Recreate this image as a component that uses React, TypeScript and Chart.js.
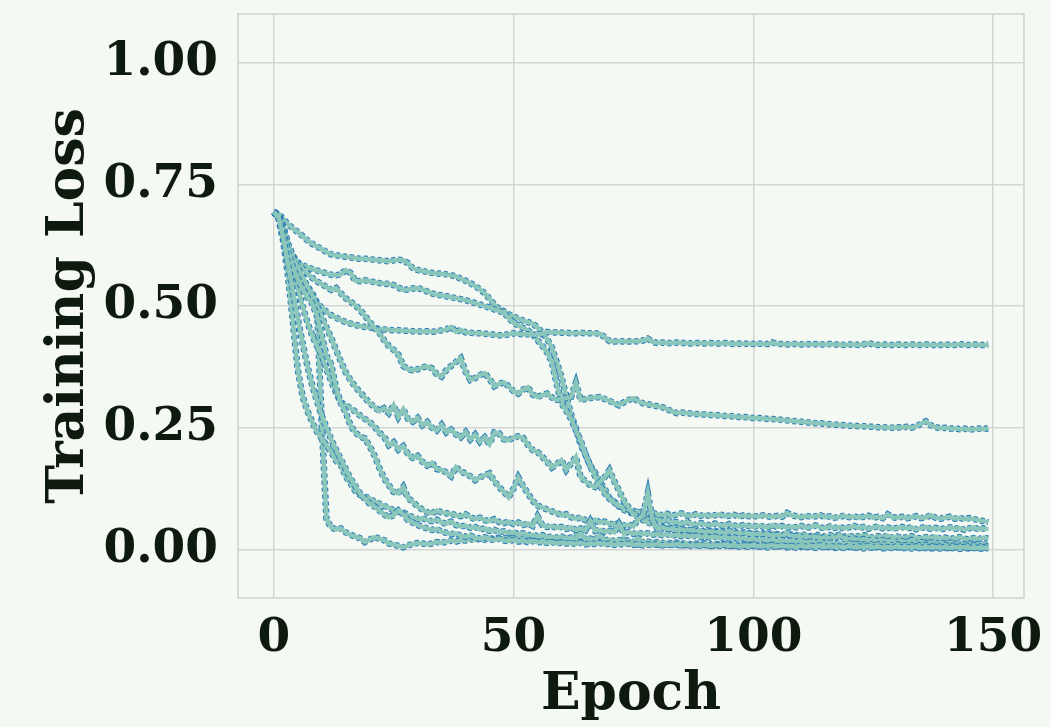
import React, { useEffect, useRef } from "react";
import { Chart, registerables } from "chart.js";

Chart.register(...registerables);

const xTicks = [0, 50, 100, 150];
const yTicks = [0, 0.25, 0.5, 0.75, 1.0];

const lossP1 = [
  0.693,0.690,0.678,0.668,0.660,0.652,0.644,0.635,0.628,0.622,
  0.617,0.611,0.606,0.604,0.603,0.601,0.600,0.598,0.597,0.597,
  0.596,0.595,0.594,0.593,0.592,0.594,0.595,0.594,0.588,0.578,
  0.574,0.572,0.570,0.568,0.567,0.566,0.565,0.563,0.561,0.556,
  0.552,0.547,0.541,0.534,0.526,0.515,0.503,0.494,0.489,0.483,
  0.478,0.474,0.470,0.467,0.464,0.456,0.445,0.432,0.415,0.385,
  0.354,0.315,0.278,0.248,0.215,0.195,0.172,0.158,0.138,0.125,
  0.105,0.098,0.088,0.081,0.078,0.072,0.075,0.068,0.064,0.066,
  0.060,0.058,0.062,0.055,0.056,0.052,0.057,0.053,0.050,0.054,
  0.051,0.049,0.053,0.050,0.048,0.052,0.049,0.047,0.050,0.048,
  0.046,0.049,0.047,0.045,0.050,0.046,0.048,0.044,0.047,0.045,
  0.048,0.044,0.046,0.049,0.045,0.043,0.047,0.044,0.046,0.043,
  0.045,0.048,0.044,0.046,0.042,0.045,0.047,0.043,0.045,0.042,
  0.044,0.046,0.043,0.045,0.041,0.044,0.046,0.042,0.044,0.041,
  0.043,0.045,0.042,0.044,0.040,0.043,0.045,0.041,0.043,0.042,
];

const lossP2 = [
  0.693,0.688,0.662,0.625,0.603,0.590,0.584,0.580,0.576,0.573,
  0.570,0.567,0.564,0.563,0.565,0.574,0.568,0.552,0.551,0.553,
  0.551,0.549,0.547,0.546,0.545,0.543,0.538,0.533,0.534,0.536,
  0.537,0.534,0.530,0.526,0.523,0.522,0.520,0.518,0.516,0.514,
  0.512,0.509,0.506,0.503,0.500,0.496,0.493,0.490,0.486,0.476,
  0.465,0.460,0.455,0.450,0.442,0.430,0.418,0.405,0.385,0.340,
  0.300,0.285,0.268,0.245,0.224,0.195,0.172,0.150,0.132,0.115,
  0.104,0.096,0.090,0.085,0.082,0.079,0.076,0.078,0.073,0.075,
  0.072,0.070,0.073,0.069,0.071,0.074,0.070,0.068,0.072,0.069,
  0.071,0.068,0.070,0.072,0.068,0.069,0.071,0.067,0.070,0.068,
  0.069,0.067,0.070,0.068,0.066,0.069,0.067,0.075,0.070,0.068,
  0.066,0.069,0.067,0.068,0.070,0.066,0.068,0.065,0.067,0.069,
  0.066,0.068,0.065,0.067,0.069,0.065,0.067,0.064,0.072,0.066,
  0.065,0.067,0.064,0.066,0.068,0.064,0.066,0.070,0.065,0.063,
  0.065,0.067,0.063,0.065,0.062,0.064,0.062,0.060,0.058,0.056,
];

const lossB = [
  0.693,0.686,0.660,0.622,0.592,0.570,0.552,0.536,0.521,0.508,
  0.496,0.488,0.481,0.476,0.471,0.467,0.464,0.461,0.459,0.457,
  0.456,0.455,0.453,0.452,0.451,0.450,0.450,0.449,0.449,0.448,
  0.448,0.447,0.448,0.447,0.448,0.450,0.452,0.457,0.447,0.451,
  0.446,0.445,0.444,0.444,0.443,0.442,0.441,0.440,0.440,0.442,
  0.444,0.443,0.442,0.442,0.441,0.441,0.443,0.447,0.445,0.446,
  0.445,0.445,0.444,0.444,0.445,0.444,0.444,0.444,0.443,0.436,
  0.428,0.427,0.428,0.427,0.427,0.428,0.427,0.429,0.433,0.426,
  0.424,0.425,0.424,0.424,0.425,0.424,0.424,0.423,0.424,0.424,
  0.423,0.424,0.423,0.423,0.424,0.423,0.422,0.423,0.422,0.423,
  0.422,0.423,0.422,0.422,0.425,0.422,0.422,0.421,0.422,0.422,
  0.421,0.422,0.421,0.422,0.421,0.421,0.422,0.421,0.421,0.420,
  0.421,0.421,0.420,0.421,0.424,0.421,0.420,0.421,0.420,0.420,
  0.421,0.420,0.420,0.421,0.420,0.420,0.421,0.420,0.420,0.420,
  0.421,0.420,0.420,0.422,0.420,0.420,0.421,0.420,0.420,0.421,
];

const lossC = [
  0.693,0.687,0.655,0.625,0.603,0.588,0.577,0.567,0.558,0.551,
  0.545,0.539,0.533,0.537,0.526,0.516,0.509,0.502,0.492,0.480,
  0.468,0.455,0.445,0.430,0.418,0.410,0.400,0.377,0.370,0.368,
  0.370,0.374,0.376,0.372,0.360,0.355,0.368,0.377,0.385,0.393,
  0.365,0.348,0.352,0.358,0.362,0.350,0.335,0.340,0.343,0.335,
  0.325,0.320,0.328,0.333,0.318,0.313,0.317,0.320,0.312,0.307,
  0.309,0.311,0.313,0.342,0.307,0.309,0.311,0.312,0.313,0.309,
  0.305,0.300,0.296,0.302,0.307,0.310,0.305,0.300,0.298,0.296,
  0.294,0.292,0.288,0.284,0.280,0.281,0.280,0.279,0.278,0.277,
  0.277,0.276,0.276,0.275,0.274,0.274,0.273,0.272,0.272,0.271,
  0.270,0.270,0.269,0.268,0.268,0.267,0.266,0.265,0.264,0.263,
  0.262,0.261,0.260,0.259,0.259,0.258,0.257,0.256,0.256,0.255,
  0.254,0.254,0.253,0.253,0.252,0.252,0.251,0.251,0.250,0.250,
  0.251,0.250,0.252,0.250,0.253,0.258,0.263,0.255,0.251,0.249,
  0.250,0.248,0.249,0.247,0.248,0.246,0.247,0.248,0.247,0.249,
];

const lossD = [
  0.693,0.682,0.645,0.605,0.582,0.566,0.552,0.540,0.528,0.505,
  0.260,0.062,0.045,0.041,0.043,0.035,0.030,0.026,0.023,0.015,
  0.020,0.025,0.022,0.019,0.012,0.010,0.007,0.004,0.008,0.011,
  0.013,0.012,0.010,0.012,0.015,0.013,0.016,0.018,0.016,0.019,
  0.018,0.021,0.019,0.022,0.020,0.023,0.021,0.024,0.022,0.025,
  0.023,0.026,0.024,0.022,0.025,0.023,0.020,0.022,0.019,0.021,
  0.018,0.020,0.017,0.028,0.016,0.018,0.015,0.017,0.014,0.016,
  0.013,0.015,0.012,0.024,0.011,0.013,0.010,0.012,0.009,0.011,
  0.010,0.008,0.011,0.009,0.010,0.007,0.009,0.008,0.010,0.007,
  0.009,0.006,0.008,0.007,0.009,0.005,0.008,0.006,0.007,0.005,
  0.007,0.005,0.006,0.004,0.006,0.005,0.007,0.004,0.006,0.003,
  0.005,0.004,0.006,0.003,0.005,0.004,0.005,0.003,0.004,0.003,
  0.005,0.003,0.004,0.002,0.004,0.003,0.005,0.002,0.004,0.003,
  0.004,0.002,0.003,0.002,0.004,0.002,0.003,0.002,0.003,0.002,
  0.003,0.002,0.003,0.001,0.003,0.002,0.003,0.001,0.002,0.002,
];

const lossE = [
  0.693,0.680,0.632,0.560,0.467,0.370,0.315,0.285,0.262,0.242,
  0.228,0.214,0.200,0.182,0.173,0.150,0.136,0.120,0.112,0.108,
  0.105,0.098,0.094,0.089,0.086,0.080,0.078,0.076,0.070,0.066,
  0.062,0.064,0.060,0.058,0.061,0.055,0.053,0.057,0.050,0.047,
  0.049,0.044,0.046,0.041,0.043,0.038,0.040,0.036,0.037,0.033,
  0.035,0.031,0.033,0.029,0.030,0.027,0.029,0.025,0.026,0.024,
  0.026,0.022,0.024,0.021,0.034,0.020,0.022,0.019,0.030,0.018,
  0.020,0.017,0.019,0.016,0.018,0.015,0.026,0.014,0.016,0.013,
  0.015,0.013,0.014,0.012,0.014,0.011,0.013,0.010,0.012,0.011,
  0.013,0.010,0.012,0.009,0.011,0.010,0.012,0.009,0.011,0.008,
  0.010,0.008,0.011,0.009,0.010,0.007,0.009,0.008,0.010,0.007,
  0.009,0.007,0.010,0.008,0.009,0.006,0.008,0.007,0.009,0.006,
  0.008,0.006,0.009,0.007,0.008,0.005,0.007,0.006,0.008,0.005,
  0.007,0.005,0.008,0.006,0.007,0.005,0.007,0.004,0.006,0.005,
  0.007,0.004,0.006,0.005,0.007,0.004,0.006,0.004,0.005,0.004,
];

const lossF = [
  0.693,0.687,0.662,0.628,0.600,0.578,0.560,0.541,0.522,0.500,
  0.478,0.456,0.434,0.410,0.386,0.364,0.348,0.334,0.323,0.312,
  0.300,0.293,0.284,0.290,0.280,0.296,0.272,0.288,0.268,0.262,
  0.270,0.255,0.262,0.250,0.244,0.256,0.240,0.246,0.236,0.230,
  0.241,0.226,0.236,0.221,0.230,0.216,0.240,0.238,0.226,0.224,
  0.230,0.232,0.229,0.215,0.204,0.200,0.190,0.180,0.168,0.175,
  0.183,0.163,0.176,0.190,0.148,0.140,0.132,0.128,0.138,0.148,
  0.163,0.140,0.121,0.100,0.086,0.072,0.066,0.060,0.055,0.052,
  0.048,0.045,0.047,0.042,0.044,0.040,0.042,0.038,0.041,0.037,
  0.039,0.036,0.038,0.035,0.037,0.034,0.036,0.033,0.035,0.032,
  0.034,0.031,0.033,0.030,0.034,0.031,0.029,0.032,0.030,0.028,
  0.031,0.029,0.027,0.030,0.028,0.026,0.029,0.027,0.030,0.026,
  0.028,0.025,0.027,0.029,0.026,0.024,0.027,0.025,0.028,0.024,
  0.026,0.023,0.025,0.027,0.024,0.022,0.025,0.023,0.026,0.022,
  0.024,0.021,0.023,0.025,0.022,0.020,0.023,0.021,0.024,0.022,
];

const lossG = [
  0.693,0.684,0.650,0.605,0.565,0.537,0.500,0.467,0.440,0.418,
  0.400,0.370,0.345,0.322,0.302,0.296,0.290,0.283,0.275,0.268,
  0.262,0.252,0.240,0.232,0.214,0.220,0.205,0.212,0.196,0.188,
  0.192,0.180,0.172,0.178,0.165,0.163,0.158,0.150,0.169,0.160,
  0.156,0.150,0.142,0.148,0.152,0.156,0.140,0.128,0.118,0.107,
  0.125,0.148,0.130,0.115,0.100,0.090,0.086,0.082,0.078,0.075,
  0.070,0.072,0.066,0.063,0.065,0.060,0.058,0.061,0.055,0.057,
  0.053,0.050,0.054,0.049,0.051,0.047,0.062,0.070,0.115,0.060,
  0.042,0.045,0.040,0.043,0.039,0.041,0.038,0.040,0.036,0.039,
  0.035,0.037,0.034,0.036,0.033,0.038,0.032,0.034,0.031,0.033,
  0.030,0.032,0.029,0.031,0.028,0.030,0.027,0.033,0.026,0.028,
  0.025,0.027,0.024,0.026,0.023,0.025,0.022,0.024,0.028,0.023,
  0.020,0.022,0.019,0.021,0.018,0.020,0.017,0.019,0.016,0.018,
  0.015,0.017,0.014,0.019,0.013,0.015,0.012,0.014,0.011,0.013,
  0.012,0.014,0.011,0.013,0.010,0.012,0.010,0.011,0.009,0.011,
];

const lossH = [
  0.693,0.684,0.652,0.612,0.580,0.556,0.535,0.518,0.506,0.480,
  0.440,0.398,0.380,0.332,0.300,0.282,0.255,0.240,0.232,0.228,
  0.212,0.193,0.168,0.146,0.132,0.118,0.115,0.128,0.105,0.098,
  0.088,0.082,0.076,0.074,0.080,0.076,0.074,0.073,0.070,0.068,
  0.072,0.066,0.062,0.065,0.060,0.058,0.062,0.056,0.054,0.057,
  0.052,0.055,0.050,0.053,0.048,0.068,0.050,0.046,0.048,0.044,
  0.046,0.042,0.045,0.040,0.043,0.039,0.058,0.038,0.040,0.036,
  0.038,0.035,0.052,0.033,0.036,0.032,0.034,0.031,0.033,0.030,
  0.032,0.029,0.031,0.028,0.030,0.027,0.029,0.026,0.028,0.025,
  0.027,0.024,0.026,0.023,0.025,0.022,0.024,0.021,0.023,0.020,
  0.022,0.019,0.021,0.018,0.020,0.017,0.019,0.016,0.018,0.015,
  0.017,0.014,0.016,0.013,0.015,0.012,0.014,0.011,0.013,0.010,
  0.012,0.010,0.011,0.009,0.012,0.008,0.010,0.009,0.011,0.008,
  0.010,0.007,0.009,0.008,0.010,0.007,0.009,0.006,0.008,0.007,
  0.009,0.006,0.008,0.007,0.009,0.006,0.008,0.005,0.007,0.006,
];

const lossJ = [
  0.693,0.683,0.640,0.585,0.530,0.475,0.425,0.378,0.338,0.305,
  0.275,0.250,0.225,0.205,0.185,0.165,0.146,0.130,0.115,0.104,
  0.094,0.088,0.080,0.072,0.066,0.070,0.080,0.072,0.060,0.055,
  0.050,0.046,0.043,0.040,0.042,0.036,0.034,0.031,0.033,0.028,
  0.026,0.028,0.024,0.022,0.025,0.021,0.019,0.022,0.018,0.017,
  0.019,0.016,0.018,0.015,0.017,0.014,0.016,0.013,0.015,0.012,
  0.014,0.012,0.013,0.011,0.014,0.010,0.012,0.011,0.013,0.010,
  0.012,0.009,0.011,0.010,0.012,0.009,0.011,0.008,0.010,0.009,
  0.011,0.008,0.010,0.009,0.011,0.008,0.010,0.007,0.009,0.008,
  0.010,0.007,0.009,0.008,0.010,0.007,0.009,0.006,0.008,0.007,
  0.009,0.006,0.008,0.007,0.009,0.006,0.008,0.006,0.007,0.005,
  0.008,0.005,0.007,0.006,0.008,0.005,0.007,0.005,0.006,0.004,
  0.007,0.004,0.006,0.005,0.007,0.004,0.006,0.004,0.005,0.004,
  0.006,0.004,0.005,0.004,0.006,0.003,0.005,0.004,0.005,0.003,
  0.005,0.003,0.005,0.004,0.005,0.003,0.004,0.003,0.004,0.003,
];

const runs = [lossP1, lossP2, lossB, lossC, lossD, lossE, lossF, lossG, lossH, lossJ];

const FONT = "'DejaVu Serif', serif";
const TEXT = "#0d1a0d";
const BG = "#f5f9f4";
const GRID = "#d5d5d5";
const TEAL = "#8ac6ba";
const BLUE = "#2d7db8";

const frame = {
  id: "frame",
  beforeDraw(chart: any) {
    const { ctx, width, height } = chart;
    ctx.save();
    ctx.fillStyle = BG;
    ctx.fillRect(0, 0, width, height);
    ctx.restore();
  },
  beforeDatasetsDraw(chart: any) {
    const { ctx, chartArea: a } = chart;
    ctx.save();
    ctx.strokeStyle = "#cfcfcf";
    ctx.lineWidth = 1.5;
    ctx.strokeRect(a.left, a.top, a.right - a.left, a.bottom - a.top);
    ctx.restore();
  },
};

const noPad = (s: any) => {
  s.paddingTop = 0;
  s.paddingBottom = 0;
  s.paddingLeft = 0;
  s.paddingRight = 0;
};

export default function App() {
  const ref = useRef<HTMLCanvasElement | null>(null);
  useEffect(() => {
    if (!ref.current) return;
    const n = runs.length;
    const datasets: any[] = [];
    runs.forEach((r, k) => {
      const pts = r.map((v, i) => ({ x: i, y: v }));
      datasets.push({
        data: pts,
        borderColor: BLUE,
        borderWidth: 6.5,
        borderDash: [4, 3],
        pointRadius: 0,
        tension: 0,
        fill: false,
        order: 2 * (n - k) + 1,
      });
      datasets.push({
        data: pts,
        borderColor: TEAL,
        borderWidth: 4.5,
        pointRadius: 0,
        tension: 0,
        fill: false,
        order: 2 * (n - k),
      });
    });
    const tickFont = { family: FONT, size: 47, weight: "bold" as const };
    const titleFont = { family: FONT, size: 52, weight: "bold" as const };
    const chart = new Chart(ref.current, {
      type: "line",
      data: { datasets },
      plugins: [frame],
      options: {
        animation: false,
        responsive: true,
        maintainAspectRatio: false,
        layout: { padding: { top: 14, right: 27, left: 0, bottom: 0 } },
        plugins: { legend: { display: false }, tooltip: { enabled: false } },
        scales: {
          x: {
            type: "linear",
            min: -7.45,
            max: 156.45,
            afterBuildTicks: (s: any) => {
              s.ticks = xTicks.map((v) => ({ value: v }));
            },
            afterFit: (s: any) => {
              s.height = 129;
              noPad(s);
            },
            grid: { color: GRID, lineWidth: 1.5, drawTicks: false },
            border: { display: false },
            ticks: {
              font: tickFont,
              color: TEXT,
              padding: 13,
              maxRotation: 0,
              autoSkip: false,
              callback: (v: any) => String(v),
            },
            title: {
              display: true,
              text: "Epoch",
              font: titleFont,
              color: TEXT,
              padding: { top: 0, bottom: 0 },
            },
          },
          y: {
            type: "linear",
            min: -0.1,
            max: 1.1,
            afterBuildTicks: (s: any) => {
              s.ticks = yTicks.map((v) => ({ value: v }));
            },
            afterFit: (s: any) => {
              s.width = 238;
              noPad(s);
            },
            grid: { color: GRID, lineWidth: 1.5, drawTicks: false },
            border: { display: false },
            ticks: {
              font: tickFont,
              color: TEXT,
              padding: 20,
              autoSkip: false,
              callback: (v: any) => Number(v).toFixed(2),
            },
            title: {
              display: true,
              text: "Training Loss",
              font: titleFont,
              color: TEXT,
              padding: { top: 38, bottom: 0 },
            },
          },
        },
      },
    });
    return () => chart.destroy();
  }, []);
  return (
    <div style={{ position: "fixed", left: 0, top: 0, width: 1051, height: 727, background: BG }}>
      <canvas ref={ref} />
    </div>
  );
}
